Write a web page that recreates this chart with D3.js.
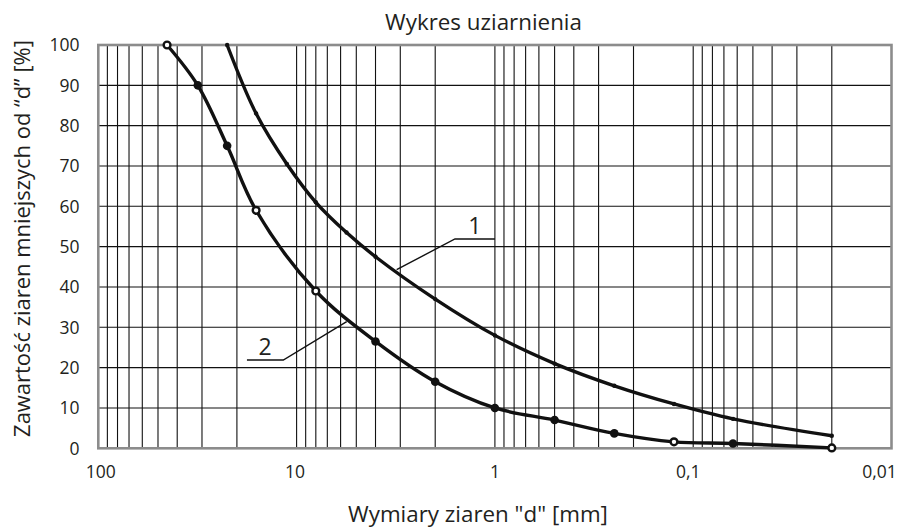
<!DOCTYPE html>
<html>
<head>
<meta charset="utf-8">
<script src="https://cdn.jsdelivr.net/npm/d3@7"></script>
<style>
body{margin:0;background:#fff;}
svg{display:block;font-family:"Open Sans",sans-serif;}
</style>
</head>
<body>
<svg width="899" height="530"></svg>
<script>
// curve 1 (drobniejsza)
let sieves1 = [22.4, 16, 11.2, 8, 5.6, 4, 2, 1, 0.5, 0.25, 0.125, 0.063, 0.02];
let pass1 = [100, 83, 70.5, 61, 53.5, 47.5, 37, 28, 21, 15.5, 11, 7.3, 3.1];
// curve 2 (grubsza)
let sieves2 = [45, 31.5, 22.4, 16, 8, 4, 2, 1, 0.5, 0.25, 0.125, 0.063, 0.02];
let pass2 = [100, 90, 75, 59, 39, 26.5, 16.5, 10, 7, 3.7, 1.6, 1.2, 0.1];
let open2 = [45, 16, 8, 0.125, 0.02];  // hollow marks on curve 2

let yTicks = [0, 10, 20, 30, 40, 50, 60, 70, 80, 90, 100];
let xTicks = [100, 10, 1, 0.1, 0.01];
let xTickLabels = ["100", "10", "1", "0,1", "0,01"];

// leaders: [start, elbow, point on curve] in data units
let leaderNames = ["1", "2"];
let leaders = [
	[[1.0, 51.9], [1.59, 51.9], [3.13, 44.3]],
	[[17.8, 21.9], [11.67, 21.9], [5.59, 31.4]]
];

let margin = {top: 45, right: 7.5, bottom: 81.7, left: 98.3};
let W = 899, H = 530;

let svg = d3.select("svg");

let x = d3.scaleLog()
	.domain([100, 0.01])
	.range([margin.left, W - margin.right]);
let y = d3.scaleLinear()
	.domain([0, 100])
	.range([H - margin.bottom, margin.top]);

function fit(sel, w){  // scale font so text gets the wanted width
	let t = sel.node().getComputedTextLength();
	let fs = parseFloat(sel.attr("font-size"));
	sel.attr("font-size", fs * w / t);
}

// grid: 1..9 in every decade
let vlines = [];
for(let e = 1; e >= -2; e--){
	for(let k = 1; k <= 9; k++){
		vlines.push(+(k * Math.pow(10, e)).toPrecision(3));
	}
}
vlines = vlines.filter(v => v < 100 && v > 0.01);

let grid = svg.append("g").attr("class", "grid");
grid.selectAll(".v")
	.data(vlines)
	.enter()
	.append("line")
	.attr("x1", d => x(d)).attr("x2", d => x(d))
	.attr("y1", y(0)).attr("y2", y(100))
	.attr("stroke", "#111")
	.attr("stroke-width", 1.1);

grid.selectAll(".h")
	.data(yTicks.slice(1, -1))
	.enter()
	.append("line")
	.attr("x1", x(100)).attr("x2", x(0.01))
	.attr("y1", d => y(d)).attr("y2", d => y(d))
	.attr("stroke", "#111")
	.attr("stroke-width", 1.1);

// frame
svg.append("rect")
	.attr("x", x(100)).attr("y", y(100))
	.attr("width", x(0.01) - x(100))
	.attr("height", y(0) - y(100))
	.attr("fill", "none")
	.attr("stroke", "#8c8c8c")
	.attr("stroke-width", 2.6);

// tick labels
svg.append("g")
	.selectAll("text")
	.data(yTicks)
	.enter()
	.append("text")
	.attr("x", 79.5)
	.attr("y", d => y(d))
	.attr("dy", "0.36em")
	.attr("text-anchor", "end")
	.attr("font-size", 17.5)
	.attr("fill", "#231f20")
	.text(d => d);

let xShift = [2.5, -1.5, 0, -5, -12];
svg.append("g")
	.selectAll("text")
	.data(xTicks)
	.enter()
	.append("text")
	.attr("x", (d, i) => x(d) + xShift[i])
	.attr("y", 478)
	.attr("text-anchor", "middle")
	.attr("font-size", 17.5)
	.attr("fill", "#231f20")
	.text((d, i) => xTickLabels[i]);

// curves
let line = d3.line()
	.x(d => x(d[0]))
	.y(d => y(d[1]))
	.curve(d3.curveCatmullRom.alpha(0.5));

let data1 = sieves1.map((s, i) => [s, pass1[i]]);
let data2 = sieves2.map((s, i) => [s, pass2[i]]);

[data1, data2].forEach(function(data){
	svg.append("path")
		.datum(data)
		.attr("d", line)
		.attr("fill", "none")
		.attr("stroke", "#111")
		.attr("stroke-width", 3.4);
});

svg.append("g")
	.selectAll("circle")
	.data(data1)
	.enter()
	.append("circle")
	.attr("cx", d => x(d[0]))
	.attr("cy", d => y(d[1]))
	.attr("r", 2.2)
	.attr("fill", "#111");

svg.append("g")
	.selectAll("circle")
	.data(data2)
	.enter()
	.append("circle")
	.attr("cx", d => x(d[0]))
	.attr("cy", d => y(d[1]))
	.attr("r", d => open2.includes(d[0]) ? 3.4 : 4.3)
	.attr("fill", d => open2.includes(d[0]) ? "#fff" : "#111")
	.attr("stroke", "#111")
	.attr("stroke-width", d => open2.includes(d[0]) ? 2.4 : 0);

// leaders with numbers
let leaderLine = d3.line()
	.x(d => x(d[0]))
	.y(d => y(d[1]));

leaders.forEach(function(pts, i){
	svg.append("path")
		.attr("d", leaderLine(pts))
		.attr("fill", "none")
		.attr("stroke", "#111")
		.attr("stroke-width", 1.4);
	svg.append("text")
		.attr("x", (x(pts[0][0]) + x(pts[1][0])) / 2)
		.attr("y", y(pts[0][1]) - 5)
		.attr("text-anchor", "middle")
		.attr("font-size", 23)
		.attr("fill", "#231f20")
		.text(leaderNames[i]);
});

// titles
let title = svg.append("text")
	.attr("x", 483.5)
	.attr("y", 30)
	.attr("text-anchor", "middle")
	.attr("font-size", 19)
	.attr("fill", "#231f20")
	.text("Wykres uziarnienia");
fit(title, 197);

let xLabel = svg.append("text")
	.attr("x", 478)
	.attr("y", 522)
	.attr("text-anchor", "middle")
	.attr("font-size", 19)
	.attr("fill", "#231f20")
	.text("Wymiary ziaren \"d\" [mm]");
fit(xLabel, 260);

let yLabel = svg.append("text")
	.attr("transform", "translate(29.5," + 238.5 + ") rotate(-90)")
	.attr("text-anchor", "middle")
	.attr("font-size", 20)
	.attr("fill", "#231f20")
	.text("Zawartość ziaren mniejszych od \u201Cd\u201D [%]");
fit(yLabel, 397);
</script>
</body>
</html>
